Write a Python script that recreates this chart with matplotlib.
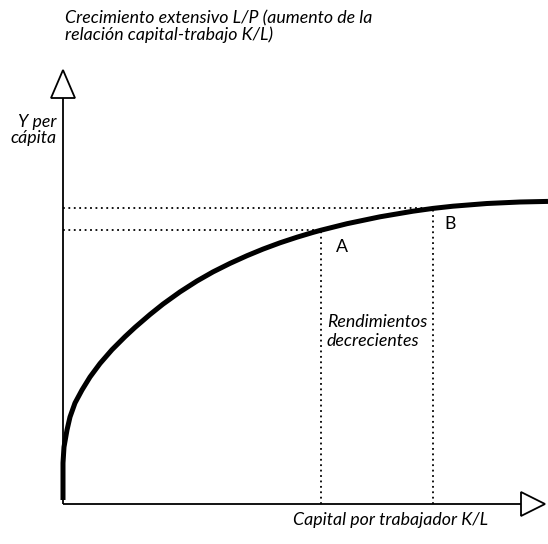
import matplotlib
matplotlib.use("Agg")
import matplotlib.pyplot as plt
from matplotlib.patches import Polygon

# Curve (capital per worker vs output per capita)
k_values = [0, 0, 0, 1, 4, 7, 12, 19, 27, 37, 49, 62, 72, 87, 100, 117, 134, 150,
            167, 184, 200, 217, 234, 250, 258, 284, 317, 350, 370, 390, 424, 457, 485]
y_values = [4, 24, 41, 57, 74, 87, 101, 114, 127, 140.5, 154.3, 167.3, 176.6, 189.5, 199.9,
            212.1, 223, 232.1, 240.6, 248.3, 254.9, 261.2, 266.8, 271.6, 273.8, 280.3,
            287.2, 292.8, 295.6, 297.8, 300.5, 302, 302.6]

point_names = ["A", "B"]
point_k = [258, 370]
point_y = [273.8, 295.6]

title_text = "Crecimiento extensivo L/P (aumento de la\nrelación capital-trabajo K/L)"
y_label = "Y per\ncápita"
x_label = "Capital por trabajador K/L"
region_label = "Rendimientos\ndecrecientes"

W, H = 548, 544
fig = plt.figure(figsize=(W / 100, H / 100), dpi=100)
fig.patch.set_facecolor("white")
ax = fig.add_axes([63 / W, 40 / H, 485 / W, 434 / H])
ax.set_xlim(0, 485)
ax.set_ylim(0, 434)
ax.axis("off")

FONT = "Lato"
fs = 12.8

# axes lines with open triangle arrowheads
ax.plot([0, 0], [0, 406], color="black", lw=1.3, clip_on=False, solid_capstyle="butt")
ax.plot([0, 458], [0, 0], color="black", lw=1.3, clip_on=False, solid_capstyle="butt")
ax.add_patch(Polygon([[-12, 406], [12, 406], [0, 434]], closed=True,
                     facecolor="white", edgecolor="black", lw=1.3, clip_on=False))
ax.add_patch(Polygon([[458, -12], [458, 12], [482, 0]], closed=True,
                     facecolor="white", edgecolor="black", lw=1.3, clip_on=False))

# dotted guide lines
for px, py in zip(point_k, point_y):
    ax.plot([0, px], [py, py], color="black", lw=1.3, ls=(0, (1, 2.0)), clip_on=False)
    ax.plot([px, px], [0, py], color="black", lw=1.3, ls=(0, (1, 2.0)), clip_on=False)

# production curve
ax.plot(k_values, y_values, color="black", lw=3.6, solid_capstyle="butt",
        solid_joinstyle="round", clip_on=False, zorder=5)

# point labels
ax.text(point_k[0] + 21, point_y[0] - 17, point_names[0], fontsize=fs, family=FONT,
        ha="center", va="center")
ax.text(point_k[1] + 17, point_y[1] - 16, point_names[1], fontsize=fs, family=FONT,
        ha="center", va="center")

ax.text(264, 190, region_label, fontsize=fs, family=FONT, style="italic",
        ha="left", va="top", linespacing=1.2)

ax.text(-6, 390, y_label, fontsize=fs, family=FONT, style="italic",
        ha="right", va="top", multialignment="right", linespacing=1.0, clip_on=False)

ax.text(425, -8, x_label, fontsize=fs, family=FONT, style="italic",
        ha="right", va="top", clip_on=False)

fig.text(65 / W, 1 - 10 / H, title_text, fontsize=fs, family=FONT, style="italic",
         ha="left", va="top", linespacing=1.0)

fig.savefig("out.png", dpi=100, facecolor="white")
